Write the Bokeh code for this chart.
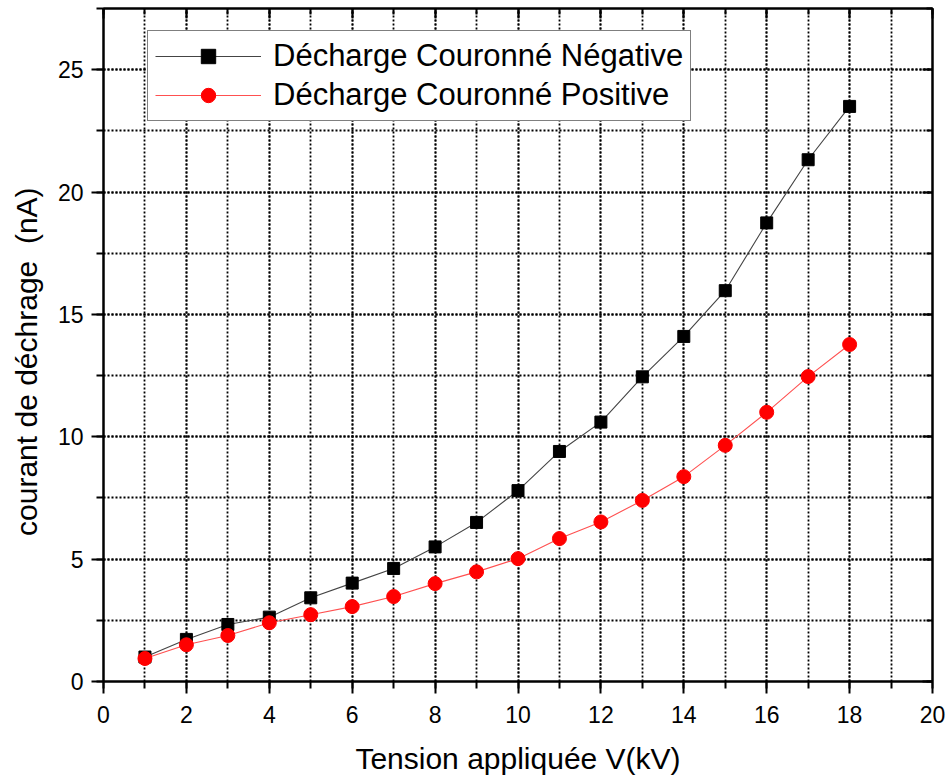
from bokeh.plotting import figure
from bokeh.models import (Range1d, LinearAxis, SingleIntervalTicker, Legend, LegendItem,
                          ColumnDataSource, CustomJSTickFormatter)
from bokeh.embed import file_html
from bokeh.resources import INLINE

# ---- data ----
tension_kv = [1, 2, 3, 4, 5, 6, 7, 8, 9, 10, 11, 12, 13, 14, 15, 16, 17, 18]
courant_negative = [1.0, 1.72, 2.33, 2.63, 3.42, 4.02, 4.62, 5.5, 6.5, 7.8, 9.4, 10.6,
                    12.45, 14.1, 15.97, 18.74, 21.32, 23.5]
courant_positive = [0.94, 1.5, 1.88, 2.4, 2.73, 3.06, 3.47, 4.0, 4.48, 5.02, 5.84, 6.52,
                    7.4, 8.37, 9.65, 11.0, 12.46, 13.77]
label_negative = "Décharge Couronné Négative"
label_positive = "Décharge Couronné Positive"
x_label = "Tension appliquée V(kV)"
y_label = "courant de déchrage\u00a0\u00a0(nA)" + "\u00a0" * 4

FONT = "Liberation Sans"

p = figure(width=948, height=780, output_backend="svg", toolbar_location=None,
           x_range=Range1d(0, 20), y_range=Range1d(0, 27.5),
           min_border_left=103, min_border_right=16, min_border_top=8, min_border_bottom=99)
p.background_fill_color = "white"
p.border_fill_color = "white"
p.outline_line_color = "black"
p.outline_line_width = 2

xt = SingleIntervalTicker(interval=2, num_minor_ticks=2)
yt = SingleIntervalTicker(interval=5, num_minor_ticks=2)

p.xaxis.ticker = xt
p.yaxis.ticker = yt
p.xgrid.ticker = xt
p.ygrid.ticker = yt

for g in (p.xgrid, p.ygrid):
    g.grid_line_color = "black"
    g.grid_line_dash = "2 2"
    g.grid_line_width = 1.8
    g.minor_grid_line_color = "black"
    g.minor_grid_line_dash = "2 2"
    g.minor_grid_line_width = 1.8

for ax in (p.xaxis, p.yaxis):
    ax.axis_line_width = 2
    ax.axis_line_color = "black"
    ax.major_tick_line_width = 2
    ax.minor_tick_line_width = 2
    ax.major_tick_out = 12
    ax.major_tick_in = 0
    ax.minor_tick_out = 7
    ax.minor_tick_in = 0
    ax.major_label_text_font = FONT
    ax.major_label_text_font_size = "23px"
    ax.major_label_text_color = "black"
    ax.axis_label_text_font = FONT
    ax.axis_label_text_font_size = "30px"
    ax.axis_label_text_font_style = "normal"
    ax.axis_label_text_color = "black"

p.xaxis.axis_label = x_label
p.yaxis.axis_label = y_label
p.xaxis.major_label_standoff = 12
p.yaxis.major_label_standoff = 8
p.xaxis.axis_label_standoff = 16
p.yaxis.axis_label_standoff = 12

# right and top axes with inward ticks, no labels
blank = CustomJSTickFormatter(code="return '';")
ra = LinearAxis(ticker=yt, formatter=blank)
ta = LinearAxis(ticker=xt, formatter=blank)
for ax in (ra, ta):
    ax.axis_line_width = 2
    ax.major_tick_in = 10
    ax.major_tick_out = 0
    ax.minor_tick_in = 6
    ax.minor_tick_out = 0
    ax.major_tick_line_width = 2
    ax.minor_tick_line_width = 2
    ax.major_label_standoff = 0
    ax.major_label_text_font_size = "10px"
p.add_layout(ra, "right")
p.add_layout(ta, "above")

src = ColumnDataSource(dict(x=tension_kv, neg=courant_negative, pos=courant_positive))

ln = p.line("x", "neg", source=src, line_color="#444444", line_width=1.1)
sn = p.scatter("x", "neg", source=src, marker="square", size=12, fill_color="black", line_color="black")
lp = p.line("x", "pos", source=src, line_color="#ff5050", line_width=1.1)
sp = p.scatter("x", "pos", source=src, marker="circle", size=14, fill_color="red", line_color="red")

legend = Legend(items=[LegendItem(label=label_negative, renderers=[ln, sn]),
                       LegendItem(label=label_positive, renderers=[lp, sp])],
                location=(44, 560))
legend.label_text_font = FONT
legend.label_text_font_size = "31px"
legend.label_text_color = "black"
legend.border_line_color = "black"
legend.border_line_width = 1.5
legend.background_fill_color = "white"
legend.background_fill_alpha = 1
legend.padding = 7
legend.spacing = 3
legend.margin = 0
legend.label_height = 36
legend.glyph_height = 36
legend.glyph_width = 106
legend.label_standoff = 12
p.add_layout(legend, "center")

open("out.html", "w").write(file_html(p, INLINE))
